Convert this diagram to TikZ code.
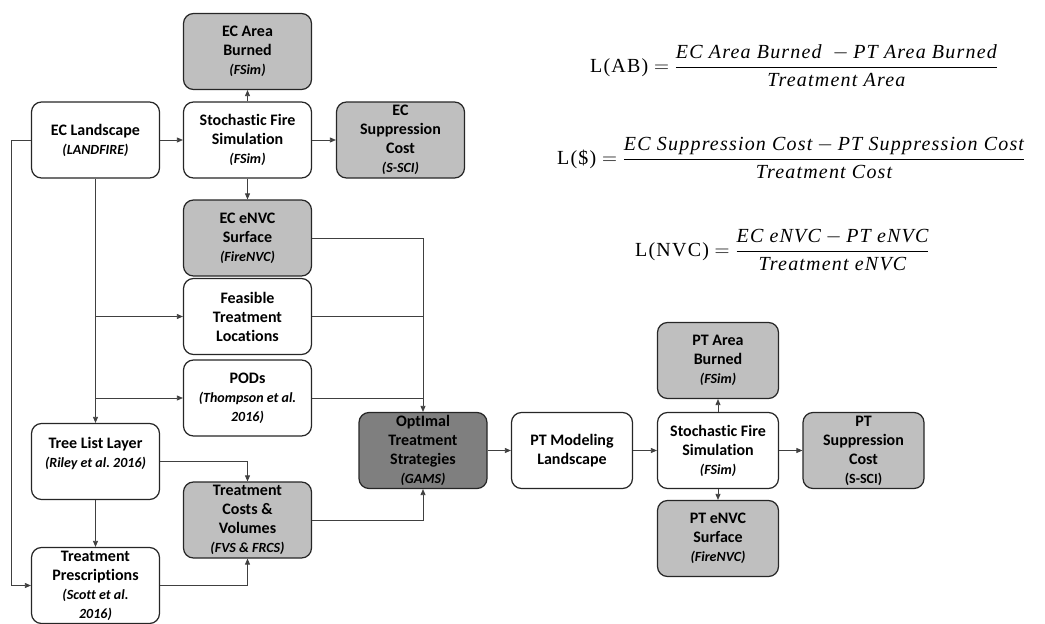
\documentclass[tikz,border=0pt]{standalone}
\usepackage{fontspec}
\setmainfont[Ligatures=NoCommon]{Carlito}
\newfontfamily\eqfont[LetterSpace=6]{Liberation Serif}
\usetikzlibrary{arrows.meta}

\definecolor{boxline}{HTML}{262626}
\definecolor{lightfill}{HTML}{BFBFBF}
\definecolor{darkfill}{HTML}{7F7F7F}
\definecolor{linkline}{HTML}{404040}

\newcommand{\subl}{\fontsize{14}{17}\selectfont\bfseries\itshape}
\newcommand{\subr}{\fontsize{14}{17}\selectfont\bfseries}
\newcommand{\eqit}{\eqfont\itshape}
\newcommand{\lossfrac}[2]{{#1 \above 1.3pt #2}}

\tikzset{
  box/.style={draw=boxline, line width=1.2pt, rounded corners=10pt, fill=white,
    minimum width=128pt, minimum height=76pt, inner sep=0pt, text width=120pt,
    align=flush center, font=\fontsize{16}{19}\selectfont\bfseries\frenchspacing},
  ptbox/.style={box, minimum width=121pt, text width=114pt},
  greybox/.style={fill=lightfill},
  darkbox/.style={fill=darkfill},
  formula/.style={anchor=west, inner sep=0pt, font=\fontsize{20}{24}\selectfont},
  >={Triangle[length=6pt, width=5pt]}
}

\begin{document}
\begin{tikzpicture}[x=1pt, y=-1pt]
    \useasboundingbox (0, 0) rectangle (1045, 624);

    % existing condition
    \node[box, greybox] (ecab) at (247.5, 51.5) {EC Area \\ Burned \\ {\subl (FSim)}};
    \node[box] (ecland) at (95.5, 140) {EC Landscape \\ {\subl (LANDFIRE)}};
    \node[box] (ecsim) at (247.5, 140) {Stochastic Fire \\ Simulation \\ {\subl (FSim)}};
    \node[box, greybox] (ecsup) at (400.5, 140) {EC \\ Suppression \\ Cost \\ {\subl (S-SCI)}};
    \node[box, greybox] (ecnvc) at (247.5, 238) {EC eNVC \\ Surface \\ {\subl (FireNVC)}};
    \node[box] (feas) at (247.5, 316.5) {Feasible \\ Treatment \\ Locations};
    \node[box] (pods) at (247.5, 398) {PODs \\ {\subl (Thompson et al.} \\ {\subl 2016)}};
    \node[box] (tree) at (95.5, 461.5) {Tree List Layer \\ {\subl (Riley et al. 2016)} \\ ~};
    \node[box, greybox] (costs) at (247.5, 520) {Treatment \\ Costs \& \\ Volumes \\ {\subl (FVS \& FRCS)}};
    \node[box] (presc) at (95.5, 585.5) {Treatment \\ Prescriptions \\ {\subl (Scott et al.} \\ {\subl 2016)}};
    \node[box, darkbox] (opt) at (423, 450.5) {OptImal \\ Treatment \\ Strategies \\ {\subl (GAMS)}};

    % post treatment
    \node[ptbox] (ptland) at (572, 450.5) {PT Modeling \\ Landscape};
    \node[ptbox] (ptsim) at (718, 450.5) {Stochastic Fire \\ Simulation \\ {\subl (FSim)}};
    \node[ptbox, greybox] (ptab) at (718, 360.5) {PT Area \\ Burned \\ {\subl (FSim)}};
    \node[ptbox, greybox] (ptsup) at (863.5, 450.5) {PT \\ Suppression \\ Cost \\ {\subr (S-SCI)}};
    \node[ptbox, greybox] (ptnvc) at (718, 538.5) {PT eNVC \\ Surface \\ {\subl (FireNVC)}};

    % loss formulas
    \node[formula] (lab) at (590, 66) {$\displaystyle \hbox{\eqfont L(AB)} = \lossfrac{\hbox{\eqit EC Area Burned\ }-\hbox{\eqit PT Area Burned}}{\hbox{\eqit Treatment Area}}$};
    \node[formula] (lcost) at (557, 158) {$\displaystyle \hbox{\eqfont L(\$)} = \lossfrac{\hbox{\eqit EC Suppression Cost}-\hbox{\eqit PT Suppression Cost}}{\hbox{\eqit Treatment Cost}}$};
    \node[formula] (lnvc) at (635, 250) {$\displaystyle \hbox{\eqfont L(NVC)} = \lossfrac{\hbox{\eqit EC eNVC}-\hbox{\eqit PT eNVC}}{\hbox{\eqit Treatment eNVC}}$};

    \begin{scope}[->, draw=linkline, line width=0.8pt]
        \draw (ecland) -- (ecsim);
        \draw (ecsim) -- (ecab);
        \draw (ecsim) -- (ecsup);
        \draw (ecsim) -- (ecnvc);
        \draw (ecland) -- (tree);
        \draw (ecland.south |- feas.west) -- (feas.west);
        \draw (ecland.south |- pods.west) -- (pods.west);
        \draw (ecland.west) -- ++(-20, 0) |- (presc.west);
        \draw (tree) -- (presc);
        \draw (tree.east) -| (costs.north);
        \draw (presc.east) -| (costs.south);
        \draw (ecnvc.east) -| (opt.north);
        \draw[-] (feas.east) -- (feas.east -| opt.north);
        \draw[-] (pods.east) -- (pods.east -| opt.north);
        \draw (costs.east) -| (opt.south);
        \draw (opt) -- (ptland);
        \draw (ptland) -- (ptsim);
        \draw (ptsim) -- (ptab);
        \draw (ptsim) -- (ptsup);
        \draw (ptsim) -- (ptnvc);
    \end{scope}
\end{tikzpicture}
\end{document}
